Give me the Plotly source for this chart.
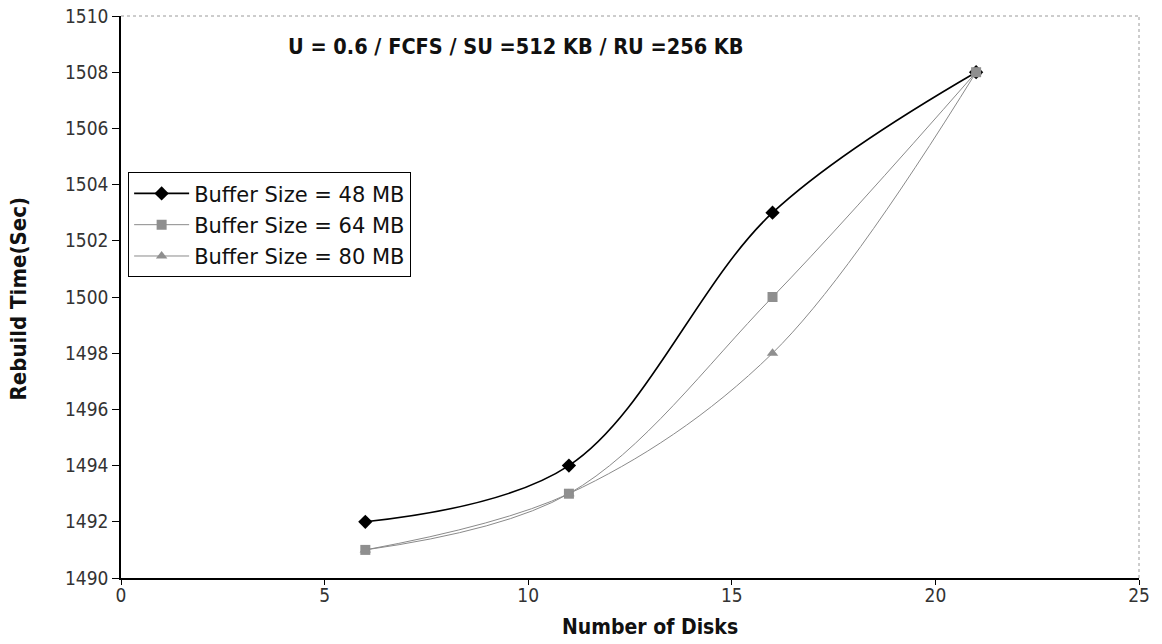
import plotly.graph_objects as go

# Rebuild time vs. number of disks for three buffer sizes
disks = [6, 11, 16, 21]
buf48 = [1492, 1494, 1503, 1508]
buf64 = [1491, 1493, 1500, 1508]
buf80 = [1491, 1493, 1498, 1508]

series = [
    ("Buffer Size = 48 MB", buf48, "#000000", 1.6, "diamond", "#000000", 11),
    ("Buffer Size = 64 MB", buf64, "#8a8a8a", 1.0, "square", "#8f8f8f", 10),
    ("Buffer Size = 80 MB", buf80, "#8a8a8a", 1.0, "triangle-up", "#8f8f8f", 10),
]

cond = "DejaVu Sans Condensed, Liberation Sans Narrow, Arial Narrow, sans-serif"

fig = go.Figure()
for i, (name, ys, lc, lw, sym, mc, ms) in enumerate(series):
    fig.add_trace(go.Scatter(
        x=disks, y=ys, name=name, mode="lines+markers", legendgroup=f"g{i}",
        line=dict(color=lc, width=lw, shape="spline", smoothing=1.0),
        marker=dict(symbol=sym, color=mc, size=ms),
    ))

fig.update_layout(
    width=1162, height=644,
    margin=dict(l=121, r=23, t=16, b=66),
    paper_bgcolor="white", plot_bgcolor="white",
    showlegend=True,
    legend=dict(
        x=0.007, y=0.722, xanchor="left", yanchor="top",
        bgcolor="white", bordercolor="#000000", borderwidth=1,
        font=dict(family="DejaVu Sans, sans-serif", size=21, color="#111111"),
        tracegroupgap=1, itemwidth=55,
    ),
    annotations=[
        dict(
            text="<b>U = 0.6 / FCFS / SU =512 KB / RU =256 KB</b>",
            xref="paper", yref="paper", x=0.388, y=0.945,
            xanchor="center", yanchor="middle", showarrow=False,
            font=dict(family=cond, size=21.5, color="#111111"),
        ),
        dict(
            text="<b>Number of Disks</b>",
            xref="paper", yref="paper", x=0.52, y=-0.088,
            xanchor="center", yanchor="middle", showarrow=False,
            font=dict(family=cond, size=21, color="#111111"),
        ),
        dict(
            text="<b>Rebuild Time(Sec)</b>", textangle=-90,
            xref="paper", yref="paper", x=-0.101, y=0.496,
            xanchor="center", yanchor="middle", showarrow=False,
            font=dict(family=cond, size=22, color="#111111"),
        ),
    ],
    shapes=[
        # dotted plot-area border on top and right
        dict(type="line", xref="paper", yref="paper", x0=0, x1=1, y0=1, y1=1,
             line=dict(color="#9a9a9a", width=1, dash="dot")),
        dict(type="line", xref="paper", yref="paper", x0=1, x1=1, y0=0, y1=1,
             line=dict(color="#9a9a9a", width=1, dash="dot")),
    ],
)

fig.update_xaxes(
    range=[0, 25], tickvals=[0, 5, 10, 15, 20, 25], automargin=False,
    showgrid=False, zeroline=False,
    showline=True, linecolor="#000000", linewidth=1.5,
    ticks="outside", ticklen=5, tickcolor="#000000", ticklabelstandoff=-6,
    tickfont=dict(family=cond, size=19, color="#333333"),
)
fig.update_yaxes(
    range=[1490, 1510], tickvals=list(range(1490, 1511, 2)), automargin=False,
    showgrid=False, zeroline=False,
    showline=True, linecolor="#000000", linewidth=1.5,
    ticks="outside", ticklen=7, tickcolor="#000000",
    tickfont=dict(family=cond, size=19, color="#333333"),
)

fig.write_html("out.html")
